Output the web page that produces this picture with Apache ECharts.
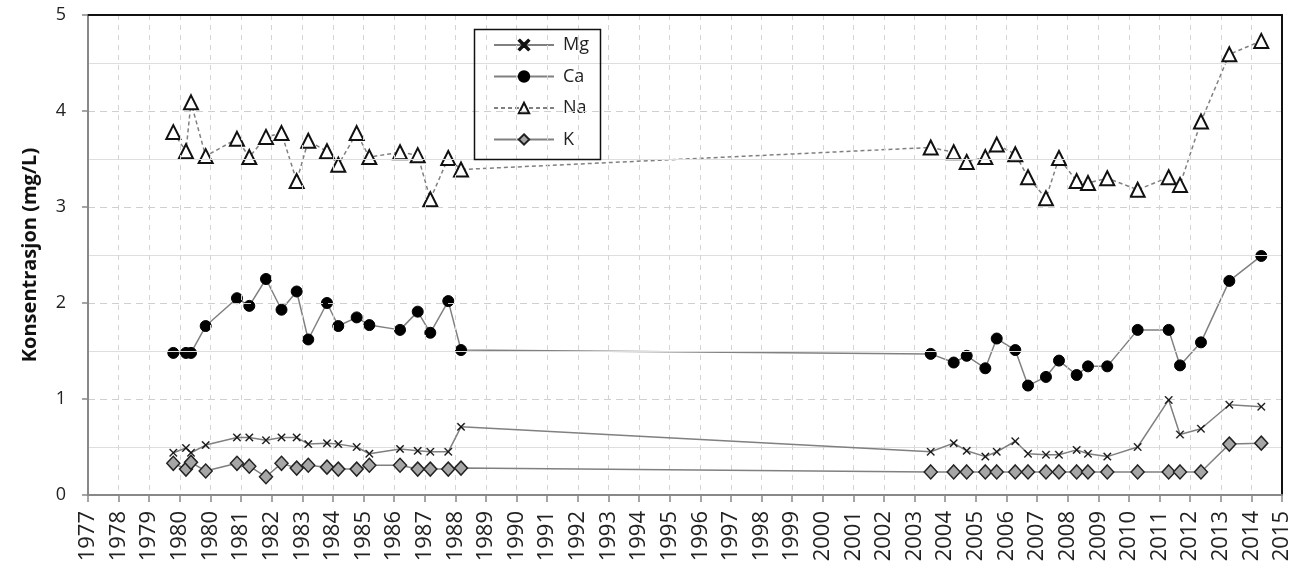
<!DOCTYPE html>
<html>
<head>
<meta charset="utf-8">
<script src="https://cdn.jsdelivr.net/npm/echarts@6/dist/echarts.min.js"></script>
<style>
html,body{margin:0;padding:0;background:#fff;}
#chart{width:1300px;height:573px;}
</style>
</head>
<body>
<div id="chart"></div>
<script>
// Sampling dates (shared by all four series)
const dates = [
  "1979-10-15","1980-03-14","1980-05-13","1980-11-04","1981-11-12","1982-04-08","1982-10-24",
  "1983-04-27","1983-10-25","1984-03-11","1984-10-20","1985-03-04","1985-10-09","1986-03-09",
  "1987-03-10","1987-10-07","1988-03-05","1988-10-05","1989-03-06",
  "2004-07-05","2005-04-05","2005-09-07","2006-04-17","2006-08-31","2007-04-09","2007-09-08",
  "2008-04-09","2008-09-11","2009-04-10","2009-08-23","2010-04-10","2011-04-07","2012-04-11",
  "2012-08-24","2013-05-01","2014-04-04","2015-04-20"
];
const mg = [0.44,0.49,0.44,0.52,0.60,0.60,0.57,0.60,0.60,0.53,0.54,0.53,0.50,0.43,0.48,0.46,0.45,0.45,0.71,
            0.45,0.54,0.46,0.40,0.45,0.56,0.43,0.42,0.42,0.47,0.43,0.40,0.50,0.99,0.63,0.69,0.94,0.92];
const ca = [1.48,1.48,1.48,1.76,2.05,1.97,2.25,1.93,2.12,1.62,2.00,1.76,1.85,1.77,1.72,1.91,1.69,2.02,1.51,
            1.47,1.38,1.45,1.32,1.63,1.51,1.14,1.23,1.40,1.25,1.34,1.34,1.72,1.72,1.35,1.59,2.23,2.49];
const na = [3.78,3.58,4.09,3.53,3.71,3.52,3.73,3.77,3.27,3.69,3.58,3.44,3.77,3.52,3.57,3.54,3.08,3.51,3.39,
            3.62,3.57,3.47,3.52,3.65,3.55,3.31,3.09,3.51,3.27,3.25,3.30,3.18,3.31,3.23,3.89,4.59,4.73];
const k  = [0.33,0.27,0.34,0.25,0.33,0.30,0.19,0.33,0.28,0.31,0.29,0.27,0.27,0.31,0.31,0.27,0.27,0.27,0.28,
            0.24,0.24,0.24,0.24,0.24,0.24,0.24,0.24,0.24,0.24,0.24,0.24,0.24,0.24,0.24,0.24,0.53,0.54];

// Axis definition (Excel-style date axis: start 1977-01-01, major unit 365 days)
const axisStart = "1977-01-01";
const majorUnitDays = 365;
const tickCount = 39;
const seriesNames = ["Mg","Ca","Na","K"];

const DAY = 86400000;
const t0 = Date.parse(axisStart + "T00:00:00Z");
const toDays = d => Math.round((Date.parse(d + "T00:00:00Z") - t0) / DAY);
const pairs = vals => dates.map((d, i) => [toDays(d), vals[i]]);
const yearOf = v => new Date(t0 + v * DAY).getUTCFullYear();

const FONT = "'Open Sans', 'DejaVu Sans', sans-serif";
const LINE = '#808080';
const xMax = tickCount * majorUnitDays;

const xPath = 'path://M1,0 L5,4 L9,0 L10,1 L6,5 L10,9 L9,10 L5,6 L1,10 L0,9 L4,5 L0,1 Z';

const chart = echarts.init(document.getElementById('chart'), null, {renderer: 'canvas'});
chart.setOption({
  animation: false,
  backgroundColor: '#fff',
  grid: {left: 88, right: 18, top: 15, bottom: 78},
  legend: {
    data: seriesNames,
    orient: 'vertical',
    left: 488, top: 31,
    itemWidth: 60, itemHeight: 13, itemGap: 13.5,
    textStyle: {fontFamily: FONT, fontSize: 18, color: '#222', padding: [0,0,0,4]},
    backgroundColor: 'transparent'
  },
  graphic: [{
    type: 'rect', left: 472, top: 27, z: 100,
    shape: {width: 126, height: 130},
    style: {fill: 'none', stroke: '#111', lineWidth: 1.5}
  }],
  xAxis: [{
    type: 'value',
    min: 0, max: xMax, interval: majorUnitDays,
    axisLine: {show: true, onZero: false, lineStyle: {color: '#888', width: 2}},
    axisTick: {show: true, length: 7, lineStyle: {color: '#888', width: 1.5}},
    axisLabel: {rotate: 90, margin: 16, fontFamily: FONT, fontSize: 22, color: '#222', formatter: v => String(yearOf(v)), showMaxLabel: true, showMinLabel: true},
    splitLine: {show: true, lineStyle: {color: '#d4d4d4', type: [5,5], width: 1}},
    z: 5
  }, {
    type: 'value', position: 'top',
    min: 0, max: xMax, interval: majorUnitDays,
    axisLine: {show: true, onZero: false, lineStyle: {color: '#111', width: 2}},
    axisTick: {show: false}, axisLabel: {show: false}, splitLine: {show: false},
    z: 5
  }],
  yAxis: [{
    type: 'value', min: 0, max: 5, interval: 1,
    name: 'Konsentrasjon (mg/L)', nameLocation: 'middle', nameGap: 48,
    nameTextStyle: {fontFamily: FONT, fontSize: 20, fontWeight: 'bold', color: '#111'},
    axisLine: {show: true, lineStyle: {color: '#888', width: 2}},
    axisTick: {show: true, length: 6, lineStyle: {color: '#888', width: 1.5}},
    axisLabel: {margin: 22, fontFamily: FONT, fontSize: 18, color: '#222'},
    splitLine: {show: true, lineStyle: {color: '#cfcfcf', type: [7,5], width: 1}},
    minorTick: {show: false, splitNumber: 2},
    minorSplitLine: {show: true, lineStyle: {color: '#dedede', width: 1}},
    z: 5
  }, {
    type: 'value', position: 'right', min: 0, max: 5, interval: 1,
    axisLine: {show: true, onZero: false, lineStyle: {color: '#111', width: 2}},
    axisTick: {show: false}, axisLabel: {show: false}, splitLine: {show: false},
    z: 5
  }],
  series: [
    {name: 'Na', type: 'line', data: pairs(na), symbol: 'triangle', symbolSize: 14,
     lineStyle: {color: LINE, width: 1.5, type: [4,3]},
     itemStyle: {color: '#fff', borderColor: '#111', borderWidth: 2}, z: 3},
    {name: 'Ca', type: 'line', data: pairs(ca), symbol: 'circle', symbolSize: 11,
     lineStyle: {color: LINE, width: 1.5},
     itemStyle: {color: '#000', borderColor: '#000', borderWidth: 1}, z: 4},
    {name: 'Mg', type: 'line', data: pairs(mg), symbol: xPath, symbolSize: 8,
     lineStyle: {color: LINE, width: 1.5},
     itemStyle: {color: '#111', borderColor: '#111', borderWidth: 0.3}, z: 5},
    {name: 'K', type: 'line', data: pairs(k), symbol: 'diamond', symbolSize: [13,14],
     lineStyle: {color: LINE, width: 1.5},
     itemStyle: {color: '#a6a6a6', borderColor: '#222', borderWidth: 1.5}, z: 6}
  ]
});
</script>
</body>
</html>
